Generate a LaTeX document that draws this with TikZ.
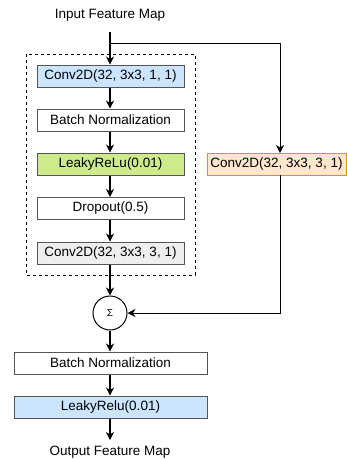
\documentclass[tikz,border=0pt]{standalone}
\usepackage{fontspec}
\setmainfont{Liberation Sans}
\usetikzlibrary{arrows.meta,positioning,calc}
\definecolor{blueFill}{HTML}{CCE5FF}
\definecolor{greenFill}{HTML}{CDEB8B}
\definecolor{grayFill}{HTML}{EEEEEE}
\definecolor{orangeFill}{HTML}{FFE6CC}
\definecolor{orangeLine}{HTML}{D79B00}
\definecolor{boxLine}{HTML}{555555}
\begin{document}
\begin{tikzpicture}[x=1pt,y=-1pt,
  font=\fontsize{13.5}{16}\selectfont,
  layer/.style={draw=boxLine,line width=1pt,minimum height=22pt,inner sep=0pt,anchor=center},
  wide/.style={layer,minimum width=147pt},
  wider/.style={layer,minimum width=193pt},
  flow/.style={line width=1.2pt,-{Stealth[length=8pt,width=8pt,inset=2.5pt]}},
  label/.style={inner sep=0pt}]
\useasboundingbox (0,0) rectangle (347,459);

% input and output labels
\node[label] (in) at (110,15) {Input Feature Map};
\node[label] (out) at (110,452) {Output Feature Map};
\coordinate (start) at (110,32);
\coordinate (split) at (110,43);
\coordinate (corner) at (280,43);
\coordinate (end) at (110,440);

% residual block (dashed frame)
\draw[dashed,line width=1pt] (26,54) rectangle (195,275);
\node[wide,fill=blueFill]  (c1) at (110.5,76)  {Conv2D(32, 3x3, 1, 1)};
\node[wide,fill=white]     (bn1) at (110.5,120) {Batch Normalization};
\node[wide,fill=greenFill] (lr1) at (110.5,164) {LeakyReLu(0.01)};
\node[wide,fill=white]     (dp) at (110.5,208.5) {Dropout(0.5)};
\node[wide,fill=grayFill]  (c2) at (110.5,253)  {Conv2D(32, 3x3, 3, 1)};

% shortcut branch
\node[layer,minimum width=139pt,fill=orangeFill,draw=orangeLine] (sc) at (276.5,164) {Conv2D(32, 3x3, 3, 1)};
\coordinate (sctop) at (280,153);
\coordinate (scbot) at (280,175);
\coordinate (join) at (280,313);

% sum node
\node[circle,draw,line width=1pt,minimum size=34pt,inner sep=0pt,font=\fontsize{10}{12}\selectfont] (sum) at (110,313) {Σ};

% output stage
\node[wider,fill=white]    (bn2) at (110.5,363) {Batch Normalization};
\node[wider,fill=blueFill] (lr2) at (110.5,407) {LeakyRelu(0.01)};

% connectors
\draw[flow] (start) -- (c1.north -| start);
\draw[flow,line width=1pt] (split) -- (corner) -- (sctop);
\draw[flow] (c1.south -| start) -- (bn1.north -| start);
\draw[flow] (bn1.south -| start) -- (lr1.north -| start);
\draw[flow] (lr1.south -| start) -- (dp.north -| start);
\draw[flow] (dp.south -| start) -- (c2.north -| start);
\draw[flow] (c2.south -| start) -- (sum.north);
\draw[flow,line width=1pt] (scbot) -- (join) -- (sum.east);
\draw[flow] (sum.south) -- (bn2.north -| sum);
\draw[flow] (bn2.south -| sum) -- (lr2.north -| sum);
\draw[flow] (lr2.south -| sum) -- (end);
\end{tikzpicture}
\end{document}
